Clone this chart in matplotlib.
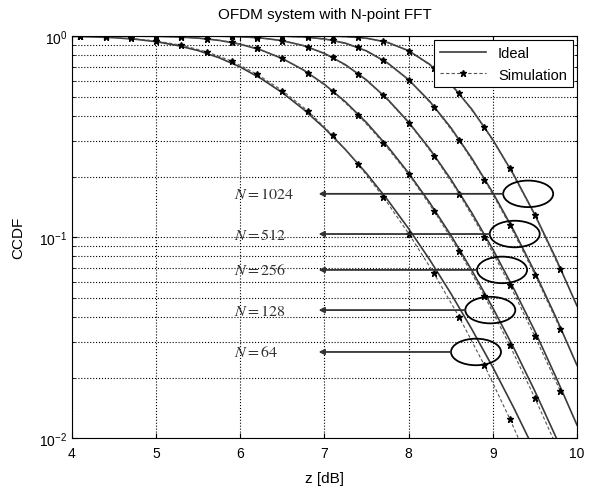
import numpy as np
import matplotlib
matplotlib.use("Agg")
import matplotlib.pyplot as plt
from matplotlib.patches import Ellipse
from matplotlib.ticker import LogLocator, NullFormatter

plt.rcParams['font.family'] = ['Liberation Sans', 'DejaVu Sans']
plt.rcParams['mathtext.fontset'] = 'stix'

# Ideal CCDF curves, read every 0.25 dB
z_ideal = [4.0, 4.25, 4.5, 4.75, 5.0, 5.25, 5.5, 5.75, 6.0, 6.25, 6.5, 6.75, 7.0,
           7.25, 7.5, 7.75, 8.0, 8.25, 8.5, 8.75, 9.0, 9.25, 9.5, 9.75, 10.0]
ideal_64 = [0.9955, 0.990, 0.981, 0.964, 0.937, 0.898, 0.846, 0.779, 0.701, 0.613, 0.522, 0.432, 0.348,
            0.272, 0.207, 0.153, 0.110, 0.0771, 0.0525, 0.0348, 0.0225, 0.0141, 0.0086, 0.0051, 0.0029]
ideal_128 = [1.0, 0.9999, 0.9996, 0.9987, 0.9960, 0.9896, 0.9762, 0.9512, 0.9104, 0.8506, 0.772, 0.678, 0.5747,
             0.470, 0.3706, 0.2822, 0.2079, 0.1482, 0.1023, 0.0683, 0.0444, 0.0280, 0.0171, 0.0101, 0.0058]
ideal_256 = [1.0, 1.0, 1.0, 1.0, 1.0, 0.9999, 0.9994, 0.9976, 0.9919, 0.9777, 0.948, 0.8962, 0.8192,
             0.7191, 0.6039, 0.4847, 0.3725, 0.2744, 0.1941, 0.1320, 0.0869, 0.0552, 0.0340, 0.0201, 0.0116]
ideal_512 = [1.0, 1.0, 1.0, 1.0, 1.0, 1.0, 1.0, 1.0, 0.9999, 0.9995, 0.9973, 0.9892, 0.9673,
             0.9211, 0.8431, 0.7345, 0.6062, 0.4735, 0.3505, 0.2466, 0.1662, 0.1075, 0.0668, 0.0398, 0.0230]
ideal_1024 = [1.0, 1.0, 1.0, 1.0, 1.0, 1.0, 1.0, 1.0, 1.0, 1.0, 1.0, 0.9999, 0.9989,
              0.9938, 0.9754, 0.9295, 0.8449, 0.7228, 0.5781, 0.4323, 0.3048, 0.2033, 0.1291, 0.0781, 0.0454]

# Simulated CCDF, marker points every 0.3 dB
z_sim = [4.1, 4.4, 4.7, 5.0, 5.3, 5.6, 5.9, 6.2, 6.5, 6.8, 7.1, 7.4, 7.7, 8.0, 8.3, 8.6, 8.9, 9.2, 9.5, 9.8]
sim_64 = [0.995, 0.988, 0.972, 0.945, 0.90, 0.835, 0.75, 0.645, 0.535, 0.425,
          0.32, 0.23, 0.158, 0.104, 0.066, 0.040, 0.023, 0.0125, 0.0065, 0.0033]
sim_128 = [1.0, 1.0, 0.9992, 0.997, 0.989, 0.971, 0.933, 0.868, 0.775, 0.658,
           0.53, 0.405, 0.294, 0.205, 0.135, 0.085, 0.051, 0.029, 0.0158, 0.0083]
sim_256 = [1.0, 1.0, 1.0, 1.0, 1.0, 0.9992, 0.995, 0.982, 0.949, 0.884,
           0.782, 0.65, 0.506, 0.37, 0.254, 0.164, 0.10, 0.058, 0.032, 0.0172]
sim_512 = [1.0, 1.0, 1.0, 1.0, 1.0, 1.0, 1.0, 0.9997, 0.997, 0.986,
           0.952, 0.878, 0.758, 0.605, 0.445, 0.303, 0.193, 0.115, 0.065, 0.035]
sim_1024 = [1.0, 1.0, 1.0, 1.0, 1.0, 1.0, 1.0, 1.0, 1.0, 0.9998,
            0.9977, 0.985, 0.942, 0.845, 0.694, 0.518, 0.352, 0.22, 0.128, 0.069]

ideal_curves = [ideal_64, ideal_128, ideal_256, ideal_512, ideal_1024]
sim_curves = [sim_64, sim_128, sim_256, sim_512, sim_1024]

# Labels with ellipse centre (z, CCDF) on the curves
fft_sizes = [1024, 512, 256, 128, 64]
mark_z = [9.42, 9.26, 9.11, 8.97, 8.80]
mark_ccdf = [0.164, 0.1035, 0.0686, 0.0433, 0.0268]

fig = plt.figure(figsize=(5.91, 4.89), dpi=100)
ax = fig.add_axes([0.1218, 0.1022, 0.8545, 0.8221])

for i in range(5):
    ax.semilogy(z_ideal, ideal_curves[i], '-', color='#3a3a3a', lw=1.2,
                label='Ideal' if i == 0 else None)
    ax.semilogy(z_sim, sim_curves[i], '--', color='#555555', lw=0.8, marker='*',
                markersize=5, markerfacecolor='k', markeredgecolor='k', dashes=(3, 2),
                label='Simulation' if i == 0 else None)

ax.set_xlim(4, 10)
ax.set_ylim(1e-2, 1)
ax.set_xticks([4, 5, 6, 7, 8, 9, 10])
ax.yaxis.set_major_locator(LogLocator(base=10))
ax.yaxis.set_minor_locator(LogLocator(base=10, subs=np.arange(2, 10)))
ax.yaxis.set_minor_formatter(NullFormatter())
ax.grid(True, which='major', linestyle=':', color='k', lw=0.8)
ax.grid(True, which='minor', axis='y', linestyle=':', color='k', lw=0.8)
ax.tick_params(which='both', direction='in', top=True, right=True, labelsize=10)
ax.tick_params(axis='x', pad=6)

ax.set_title('OFDM system with N-point FFT', fontsize=11, pad=13)
ax.set_xlabel('z [dB]', fontsize=11, labelpad=8)
ax.set_ylabel('CCDF', fontsize=11, labelpad=10)

# Annotations: ellipse around curve and arrow pointing to label
to_axes = ax.transAxes.inverted()
for n, zc, yc in zip(fft_sizes, mark_z, mark_ccdf):
    cx, cy = to_axes.transform(ax.transData.transform((zc, yc)))
    ax.add_patch(Ellipse((cx, cy), 0.099, 0.066, transform=ax.transAxes,
                         fill=False, edgecolor='k', lw=1.3, zorder=5))
    ax.annotate('', xy=(6.93, yc), xytext=(zc - 0.3, yc),
                arrowprops=dict(arrowstyle='-|>', color='#333333', lw=1.3,
                                mutation_scale=8, shrinkA=0, shrinkB=0), zorder=5)
    ax.text(5.93, yc, r'$N = %d$' % n, fontsize=11.5, ha='left', va='center',
            color='#333333', zorder=5)

leg = ax.legend(loc='upper right', fontsize=10.5, fancybox=False, framealpha=1,
                edgecolor='k', handlelength=3.2, borderaxespad=0.3)
leg.get_frame().set_linewidth(0.8)

fig.savefig('out.png', dpi=100)
